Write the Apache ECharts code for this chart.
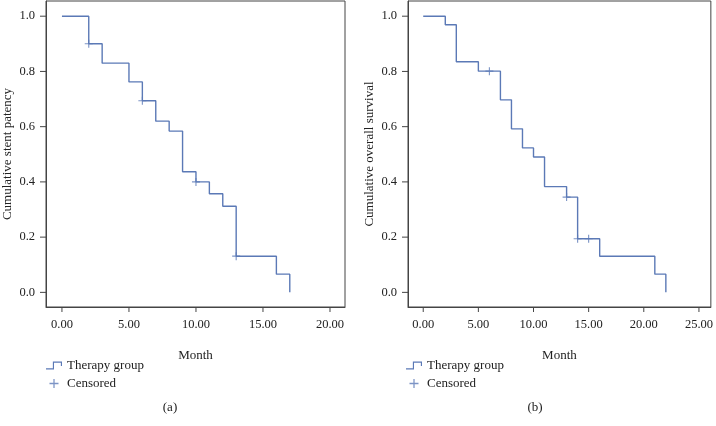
<!DOCTYPE html>
<html>
<head>
<meta charset="utf-8">
<script src="https://cdn.jsdelivr.net/npm/echarts@6/dist/echarts.min.js"></script>
<style>html,body{margin:0;padding:0;background:#fff}#c{width:716px;height:426px}</style>
</head>
<body>
<div id="c"></div>
<script>
// Panel (a): cumulative stent patency
const timesA = [0, 2, 3, 5, 6, 7, 8, 9, 10, 11, 12, 13, 16, 17];
const survA = [1.0, 0.9, 0.83, 0.762, 0.694, 0.62, 0.584, 0.437, 0.40, 0.357, 0.312, 0.131, 0.066, 0];
const censorTimesA = [2, 6, 10, 13];
const censorSurvA = [0.9, 0.694, 0.40, 0.131];
// Panel (b): cumulative overall survival
const timesB = [0, 2, 3, 5, 7, 8, 9, 10, 11, 13, 14, 16, 21, 22];
const survB = [1.0, 0.969, 0.835, 0.801, 0.697, 0.592, 0.523, 0.490, 0.383, 0.345, 0.194, 0.131, 0.066, 0];
const censorTimesB = [6, 13, 14, 15];
const censorSurvB = [0.801, 0.345, 0.194, 0.194];
// Tick labels
const xTicksA = [0, 5, 10, 15, 20];
const xTicksB = [0, 5, 10, 15, 20, 25];
const yTicks = [0, 0.2, 0.4, 0.6, 0.8, 1.0];
const seriesNames = ['Therapy group', 'Censored'];
const yNames = ['Cumulative stent patency', 'Cumulative overall survival'];
const panelLabels = ['(a)', '(b)'];

const FONT = 'Liberation Serif';
const TXT = '#222';
const AX = '#444';
const LINE = '#5b79b6';
const plusPath = 'path://M4.3,0H5.7V10H4.3ZM0,4.3H10V5.7H0Z';
const stepIcon = 'path://M0,7H7V8H0ZM6,1H7V8H6ZM6,1H14V2H6ZM13,1H14V5H13Z';
const Y_MIN = -0.053, Y_MAX = 1.055;
const X_RANGE = [[-1.19, 21.12], [-1.38, 26.08]];

function xAxis(idx, ticks) {
  return {
    type: 'value', gridIndex: idx, min: X_RANGE[idx][0], max: X_RANGE[idx][1],
    name: 'Month', nameLocation: 'middle', nameGap: 42,
    nameTextStyle: {fontFamily: FONT, fontSize: 13, color: TXT},
    axisLine: {show: true, onZero: false, lineStyle: {color: AX, width: 1}},
    axisTick: {show: false},
    axisLabel: {customValues: ticks, margin: 11, fontFamily: FONT, fontSize: 12.5, color: TXT,
      formatter: v => v.toFixed(2)},
    splitLine: {show: false}
  };
}
function yAxis(idx, name) {
  return {
    type: 'value', gridIndex: idx, min: Y_MIN, max: Y_MAX,
    name: name, nameLocation: 'middle', nameGap: 32, nameRotate: 90,
    nameTextStyle: {fontFamily: FONT, fontSize: 13, color: TXT},
    axisLine: {show: true, onZero: false, lineStyle: {color: AX, width: 1}},
    axisTick: {show: false},
    axisLabel: {customValues: yTicks, margin: 11, fontFamily: FONT, fontSize: 12.5, color: TXT,
      formatter: v => v.toFixed(1)},
    splitLine: {show: false}
  };
}
function steps(t, s) { return t.map((x, i) => [x, s[i]]); }

// Tick marks drawn through the axes' own scales (on the frame's outer edge)
function xTickSeries(idx, ticks) {
  return {
    type: 'custom', xAxisIndex: idx, yAxisIndex: idx, silent: true, clip: false, z: 5,
    data: ticks.map(v => [v, Y_MIN]),
    renderItem: (params, api) => {
      const p = api.coord([api.value(0), api.value(1)]);
      return {type: 'line', shape: {x1: p[0], y1: p[1], x2: p[0], y2: p[1] + 5},
        style: {stroke: AX, lineWidth: 1}};
    }
  };
}
function yTickSeries(idx) {
  return {
    type: 'custom', xAxisIndex: idx, yAxisIndex: idx, silent: true, clip: false, z: 5,
    data: yTicks.map(v => [X_RANGE[idx][0], v]),
    renderItem: (params, api) => {
      const p = api.coord([api.value(0), api.value(1)]);
      return {type: 'line', shape: {x1: p[0] - 6, y1: p[1], x2: p[0], y2: p[1]},
        style: {stroke: AX, lineWidth: 1}};
    }
  };
}

const chart = echarts.init(document.getElementById('c'), null, {renderer: 'canvas'});
chart.setOption({
  animation: false,
  grid: [
    {left: 45, right: 371, top: 1, bottom: 119, show: true, borderColor: AX, borderWidth: 1},
    {left: 408, right: 4, top: 1, bottom: 119, show: true, borderColor: AX, borderWidth: 1}
  ],
  xAxis: [xAxis(0, xTicksA), xAxis(1, xTicksB)],
  yAxis: [yAxis(0, yNames[0]), yAxis(1, yNames[1])],
  legend: [
    {orient: 'vertical', left: 41, top: 354, itemWidth: 16, itemHeight: 9, itemGap: 5,
      textStyle: {fontFamily: FONT, fontSize: 13, color: TXT},
      data: [{name: seriesNames[0], icon: stepIcon}, {name: seriesNames[1], icon: plusPath}], selectedMode: false},
    {orient: 'vertical', left: 401, top: 354, itemWidth: 16, itemHeight: 9, itemGap: 5,
      textStyle: {fontFamily: FONT, fontSize: 13, color: TXT},
      data: [{name: seriesNames[0], icon: stepIcon}, {name: seriesNames[1], icon: plusPath}], selectedMode: false}
  ],
  graphic: [
    {type: 'text', x: 170, y: 408, style: {text: panelLabels[0], font: '13px ' + FONT, fill: TXT, align: 'center', verticalAlign: 'middle'}},
    {type: 'text', x: 535, y: 408, style: {text: panelLabels[1], font: '13px ' + FONT, fill: TXT, align: 'center', verticalAlign: 'middle'}}
  ],
  series: [
    {name: seriesNames[0], type: 'line', xAxisIndex: 0, yAxisIndex: 0, step: 'end', showSymbol: false,
      data: steps(timesA, survA), color: LINE, lineStyle: {color: LINE, width: 1.4}},
    {name: seriesNames[1], type: 'scatter', xAxisIndex: 0, yAxisIndex: 0, symbol: plusPath, symbolSize: 8,
      data: steps(censorTimesA, censorSurvA), itemStyle: {color: LINE}},
    {name: seriesNames[0], type: 'line', xAxisIndex: 1, yAxisIndex: 1, step: 'end', showSymbol: false,
      data: steps(timesB, survB), color: LINE, lineStyle: {color: LINE, width: 1.4}},
    {name: seriesNames[1], type: 'scatter', xAxisIndex: 1, yAxisIndex: 1, symbol: plusPath, symbolSize: 8,
      data: steps(censorTimesB, censorSurvB), itemStyle: {color: LINE}},
    xTickSeries(0, xTicksA), yTickSeries(0),
    xTickSeries(1, xTicksB), yTickSeries(1)
  ]
});
</script>
</body>
</html>
